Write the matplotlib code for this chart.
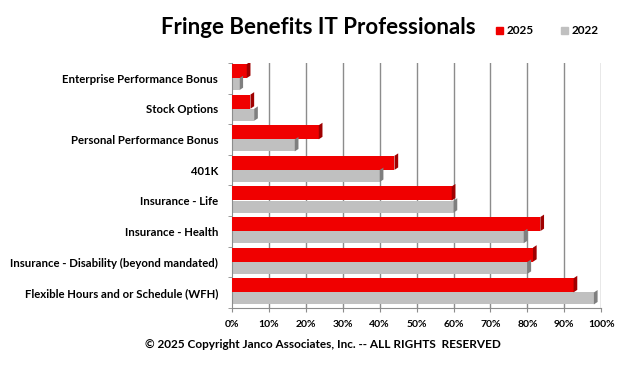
import matplotlib
matplotlib.use("Agg")
import matplotlib.pyplot as plt
from matplotlib.patches import Polygon
import numpy as np

plt.rcParams['font.family'] = ['Lato', 'DejaVu Sans']
plt.rcParams['font.weight'] = 'bold'

categories = ["Enterprise Performance Bonus", "Stock Options", "Personal Performance Bonus",
              "401K", "Insurance - Life", "Insurance - Health",
              "Insurance - Disability (beyond mandated)", "Flexible Hours and or Schedule (WFH)"]
vals_2025 = [4, 5, 23.5, 44, 59.5, 83.5, 81.5, 92.5]
vals_2022 = [2, 6, 17, 40, 60, 79, 80, 98]
xticks = [0, 10, 20, 30, 40, 50, 60, 70, 80, 90, 100]

fig = plt.figure(figsize=(6.4, 3.71), dpi=100)
ax = fig.add_axes([0.3625, 0.170, 0.577, 0.660])

y = np.arange(len(categories))
red, grey = '#f00000', '#c0c0c0'
h_red, h_grey = 0.46, 0.39
y_red = y - 0.24
y_grey = y + 0.19

# grid first
for t in xticks[1:]:
    ax.axvline(t, color='#8c8c8c', lw=1.0, zorder=0)

ax.barh(y_red, vals_2025, height=h_red, color=red, zorder=3)
ax.barh(y_grey, vals_2022, height=h_grey, color=grey, zorder=2)

# fake 3d side faces
dx, dy = 1.0, 0.08
for yc, v, hh, c in list(zip(y_red, vals_2025, [h_red] * 8, ['#a00000'] * 8)) + \
        list(zip(y_grey, vals_2022, [h_grey] * 8, ['#7f7f7f'] * 8)):
    top, bot = yc - hh / 2, yc + hh / 2
    ax.add_patch(Polygon([(v, top), (v + dx, top - dy), (v + dx, bot - dy), (v, bot)],
                         closed=True, color=c, zorder=4, lw=0))

ax.set_ylim(len(categories) - 0.5, -0.5)
ax.set_xlim(0, 100)
ax.set_xticks(xticks)
ax.set_xticklabels([f"{t}%" for t in xticks], fontsize=7.5, fontweight='bold')
ax.set_yticks(y)
ax.set_yticklabels(categories, fontsize=8.2, fontweight='bold')
ax.tick_params(axis='y', length=0, pad=10)
ax.tick_params(axis='x', length=3, color='#8c8c8c', pad=6)
ax.set_yticks(np.arange(len(categories) + 1) - 0.5, minor=True)
ax.tick_params(axis='y', which='minor', length=3, color='#8c8c8c')
for s in ['top', 'right']:
    ax.spines[s].set_visible(False)
for s in ['left', 'bottom']:
    ax.spines[s].set_color('#8c8c8c')

fig.text(0.497, 0.927, "Fringe Benefits IT Professionals", ha='center', va='center',
         fontsize=16, fontweight='bold')
# legend
fig.patches.append(plt.Rectangle((496 / 640, 1 - 34 / 371), 7 / 640, 7 / 371,
                                 transform=fig.transFigure, color=red))
fig.text(507 / 640, 1 - 30.5 / 371, "2025", ha='left', va='center', fontsize=8.5, fontweight='bold')
fig.patches.append(plt.Rectangle((561 / 640, 1 - 34 / 371), 7 / 640, 7 / 371,
                                 transform=fig.transFigure, color=grey))
fig.text(572 / 640, 1 - 30.5 / 371, "2022", ha='left', va='center', fontsize=8.5, fontweight='bold')

fig.text(0.505, 1 - 344 / 371, "\u00a9 2025 Copyright Janco Associates, Inc. -- ALL RIGHTS  RESERVED",
         ha='center', va='center', fontsize=8.5, fontweight='bold')

fig.savefig("out.png", dpi=100)
